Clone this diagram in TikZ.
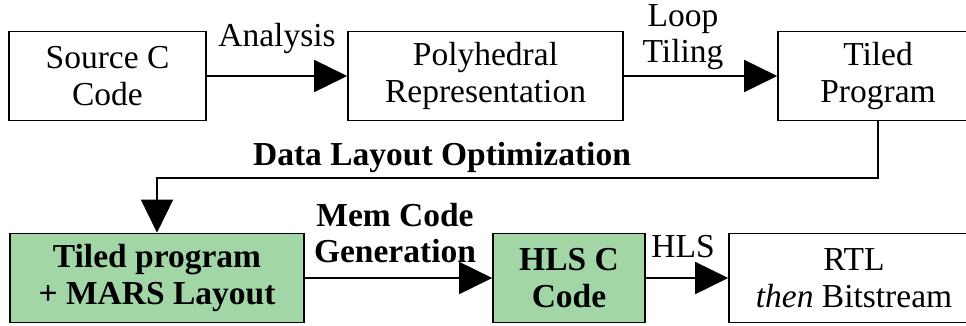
\documentclass[tikz,border=0pt]{standalone}
\usepackage{fontspec}
\setmainfont{Liberation Serif}
\usetikzlibrary{arrows.meta}
\definecolor{boxgreen}{RGB}{163,214,166}
\begin{document}
\begin{tikzpicture}[x=1pt,y=-1pt,
  box/.style={draw, line width=1.6pt, inner sep=0pt, minimum height=89pt, align=center, font=\fontsize{33.5}{37}\selectfont},
  gbox/.style={box, fill=boxgreen, font=\fontsize{33.5}{37}\selectfont\bfseries},
  lbl/.style={align=center, inner sep=0pt, font=\fontsize{33.5}{36}\selectfont},
  blbl/.style={lbl, font=\fontsize{33.5}{36}\selectfont\bfseries},
  arr/.style={line width=1.6pt, -{Triangle[length=33pt,width=32pt]}}]
\useasboundingbox (0,0) rectangle (966,325);
\node[box, minimum width=197pt] (b1) at (107.5,76) {Source C\\Code};
\node[box, minimum width=275pt] (b2) at (485.5,76) {Polyhedral\\Representation};
\node[box, minimum width=200pt] (b3) at (878,76) {Tiled\\Program};
\node[gbox, minimum width=294pt] (b4) at (157,278) {Tiled program\\+ MARS Layout};
\node[gbox, minimum width=152pt] (b5) at (569,278) {HLS C\\Code};
\node[box, minimum width=250pt] (b6) at (854,278) {RTL\\\textit{then} Bitstream};
\node[lbl] (l1) at (277,38) {Analysis};
\node[lbl] (l2) at (683,37) {Loop\\Tiling};
\node[blbl] (l3) at (442,157) {Data Layout Optimization};
\node[blbl] (l4) at (395,233) {Mem Code\\Generation};
\node[lbl] (l5) at (683,247) {HLS};
\coordinate (c1) at (878,178);
\draw[arr] (b1) -- (b2);
\draw[arr] (b2) -- (b3);
\draw[arr] (b3.south) -- (c1) -| (b4.north);
\draw[arr] (b4) -- (b5);
\draw[arr] (b5) -- (b6);
\end{tikzpicture}
\end{document}
